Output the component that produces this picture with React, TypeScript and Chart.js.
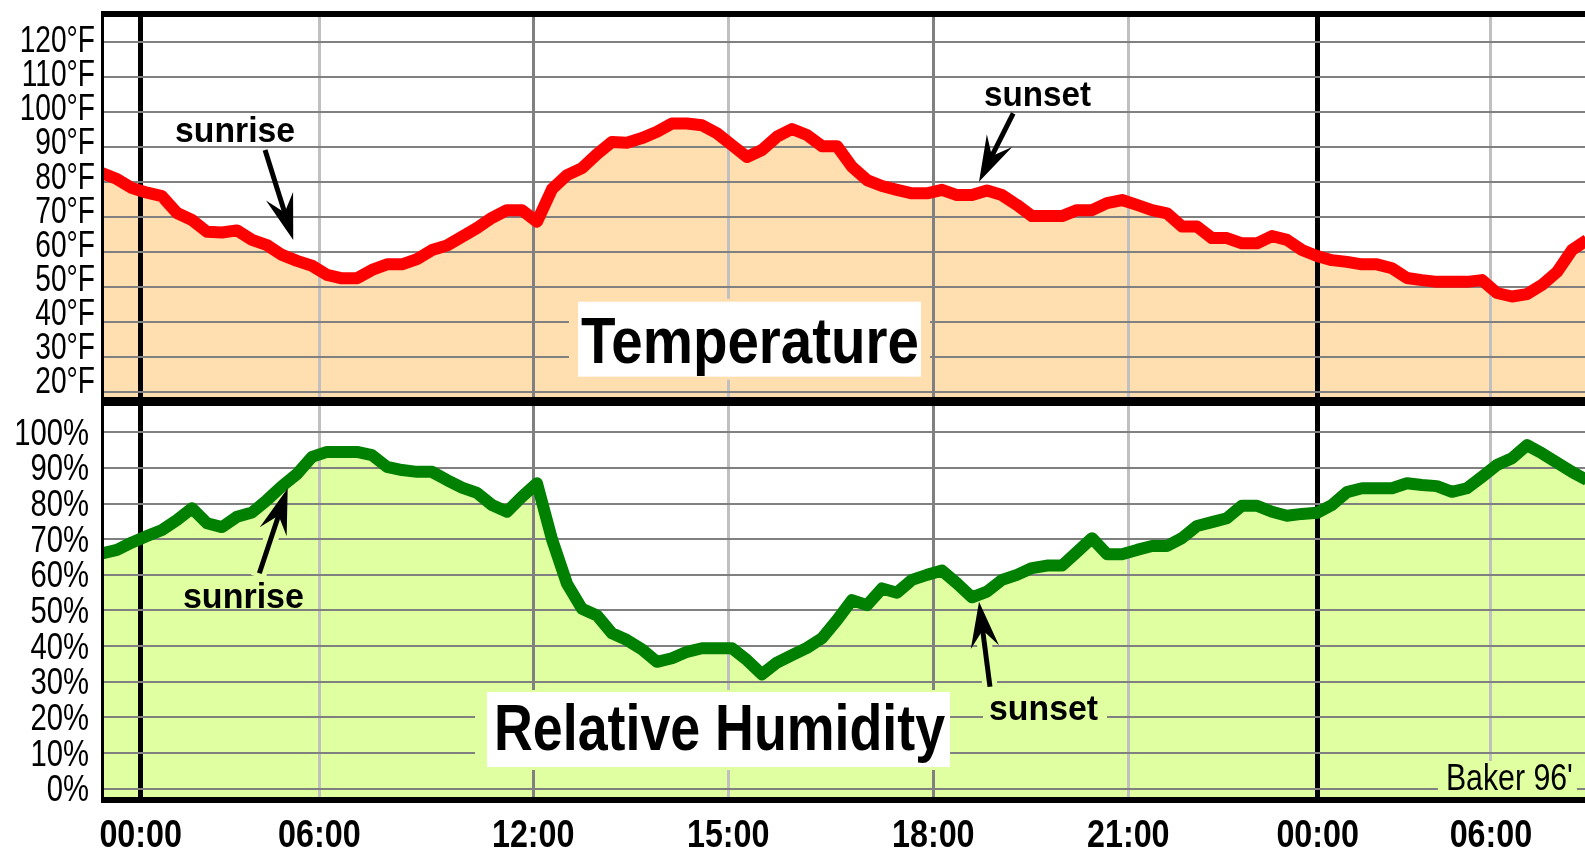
import React, { useEffect, useRef } from 'react';
import { Chart, registerables } from 'chart.js';

Chart.register(...registerables);

// ---------------- data (one sample every ~15 px of the original time axis) ----------------
const temperatureF = [
  82.6, 80.9, 78.3, 77.0, 76.0, 71.2, 69.2, 65.8, 65.6, 66.2,
  63.5, 62.0, 59.2, 57.5, 56.1, 53.5, 52.5, 52.5, 54.9, 56.5,
  56.5, 58.0, 60.6, 61.9, 64.4, 66.9, 69.8, 72.0, 72.0, 68.7,
  78.0, 82.0, 84.0, 88.0, 91.5, 91.3, 92.6, 94.4, 96.8, 96.8,
  96.3, 94.0, 90.6, 87.2, 89.2, 93.0, 95.2, 93.5, 90.3, 90.3,
  84.4, 80.6, 78.9, 77.8, 76.8, 76.8, 77.8, 76.3, 76.3, 77.6,
  76.3, 73.5, 70.3, 70.3, 70.3, 72.0, 72.0, 74.0, 74.9, 73.5,
  72.0, 71.1, 67.3, 67.3, 64.0, 64.0, 62.5, 62.5, 64.6, 63.5,
  60.6, 58.9, 57.7, 57.2, 56.5, 56.5, 55.4, 52.6, 52.0, 51.5,
  51.5, 51.5, 52.0, 48.3, 47.3, 48.0, 50.6, 54.3, 60.6, 63.5,
];

const humidityPct = [
  66.0, 67.0, 69.1, 70.9, 72.6, 75.4, 78.7, 74.5, 73.4, 76.3,
  77.5, 81.0, 84.9, 88.3, 93.1, 94.5, 94.5, 94.5, 93.6, 90.3,
  89.4, 88.9, 88.9, 86.6, 84.5, 83.0, 79.6, 77.7, 81.9, 85.7,
  70.0, 57.5, 50.5, 48.6, 43.6, 41.7, 39.1, 35.6, 36.6, 38.4,
  39.4, 39.4, 39.4, 36.1, 32.1, 35.4, 37.5, 39.5, 42.2, 47.3,
  52.9, 51.5, 56.2, 55.0, 58.6, 60.0, 61.2, 57.6, 53.7, 55.3,
  58.6, 60.0, 61.9, 62.6, 62.6, 66.4, 70.3, 65.8, 65.8, 67.0,
  68.1, 68.1, 70.3, 73.7, 74.8, 75.9, 79.4, 79.4, 77.7, 76.6,
  77.1, 77.4, 79.6, 83.2, 84.3, 84.3, 84.3, 85.7, 85.2, 84.9,
  83.3, 84.3, 87.5, 90.8, 92.7, 96.4, 94.1, 91.5, 88.9, 86.6,
];

const timeTickPositions = [2.58, 14.49, 28.75, 41.75, 55.42, 68.42, 81.05, 92.6];
const timeTickLabels = ['00:00', '06:00', '12:00', '15:00', '18:00', '21:00', '00:00', '06:00'];
const tempTicks = [20, 30, 40, 50, 60, 70, 80, 90, 100, 110, 120];
const humTicks = [0, 10, 20, 30, 40, 50, 60, 70, 80, 90, 100];

// ---------------- styles ----------------
const X_MAX = 98.87;
const xGridColors = ['#000000', '#c0c0c0', '#808080', '#c0c0c0', '#808080', '#c0c0c0', '#000000', '#c0c0c0'];
const xGridWidths = [5, 3, 3, 3, 3, 3, 5, 3];
const TEMP_FILL = '#ffdeb0';
const HUM_FILL = '#e0ffa0';
const TEXT_FAMILY = "'Liberation Sans', Arial, sans-serif";

function drawText(ctx: any, text: string, cx: number, baseline: number, width: number, font: string) {
  ctx.save();
  ctx.font = font;
  const w = ctx.measureText(text).width || 1;
  ctx.translate(cx, baseline);
  ctx.scale(width / w, 1);
  ctx.textAlign = 'center';
  ctx.textBaseline = 'alphabetic';
  ctx.fillStyle = '#000';
  ctx.fillText(text, 0, 0);
  ctx.restore();
}

function drawScaled(ctx: any, text: string, x: number, y: number, sx: number, align: string) {
  ctx.save();
  ctx.translate(x, y);
  ctx.scale(sx, 1);
  ctx.textAlign = align;
  ctx.textBaseline = 'alphabetic';
  ctx.fillText(text, 0, 0);
  ctx.restore();
}

function drawArrow(ctx: any, x0: number, y0: number, x1: number, y1: number, halo?: string) {
  const ang = Math.atan2(y1 - y0, x1 - x0);
  const len = 48;
  const half = 0.3;
  const ux = Math.cos(ang);
  const uy = Math.sin(ang);
  ctx.save();
  ctx.lineCap = 'butt';
  if (halo) {
    ctx.strokeStyle = halo;
    ctx.lineWidth = 15;
    ctx.beginPath();
    ctx.moveTo(x0 - ux * 4, y0 - uy * 4);
    ctx.lineTo(x1 - ux * len * 0.8, y1 - uy * len * 0.8);
    ctx.stroke();
  }
  ctx.strokeStyle = '#000';
  ctx.lineWidth = 5;
  ctx.beginPath();
  ctx.moveTo(x0, y0);
  ctx.lineTo(x1 - ux * len * 0.5, y1 - uy * len * 0.5);
  ctx.stroke();
  ctx.fillStyle = '#000';
  ctx.beginPath();
  ctx.moveTo(x1, y1);
  ctx.lineTo(x1 - len * Math.cos(ang - half), y1 - len * Math.sin(ang - half));
  ctx.lineTo(x1 - ux * len * 0.6, y1 - uy * len * 0.6);
  ctx.lineTo(x1 - len * Math.cos(ang + half), y1 - len * Math.sin(ang + half));
  ctx.closePath();
  ctx.fill();
  ctx.restore();
}

function xScale(height: number) {
  return {
    type: 'linear',
    min: 0,
    max: X_MAX,
    afterBuildTicks: (s: any) => { s.ticks = timeTickPositions.map((v) => ({ value: v })); },
    afterFit: (s: any) => { s.height = height; s.paddingLeft = 0; s.paddingRight = 0; },
    border: { display: false },
    grid: {
      color: (c: any) => xGridColors[c.index] ?? '#c0c0c0',
      lineWidth: (c: any) => xGridWidths[c.index] ?? 3,
      drawTicks: false,
    },
    ticks: { display: false, autoSkip: false },
  };
}

function yScale(min: number, max: number, ticks: number[]) {
  return {
    type: 'linear',
    position: 'left',
    min,
    max,
    afterBuildTicks: (s: any) => { s.ticks = ticks.map((v) => ({ value: v })); },
    afterFit: (s: any) => { s.width = 102; s.paddingTop = 0; s.paddingBottom = 0; },
    border: { display: false },
    grid: { color: '#808080', lineWidth: 2, drawTicks: false },
    ticks: { display: false, autoSkip: false },
  };
}

// Tick labels are drawn from the chart's own scale ticks, horizontally condensed
// like the original bitmap font.
const tickLabels = (isTop: boolean) => ({
  id: 'tickLabels' + (isTop ? 'Top' : 'Bottom'),
  afterDraw(chart: any) {
    const { ctx, chartArea: a } = chart;
    const ys = chart.scales.y;
    const xs = chart.scales.x;
    ctx.save();
    ctx.fillStyle = '#000';
    ctx.font = `37px ${TEXT_FAMILY}`;
    ys.ticks.forEach((t: any) => {
      const py = ys.getPixelForValue(t.value);
      if (isTop) {
        drawScaled(ctx, `${t.value}°F`, a.left - 7, py + 1 + (t.value - 20) * 0.09, 0.76, 'right');
      } else {
        drawScaled(ctx, `${t.value}%`, a.left - 13, py + 12.5, 0.79, 'right');
      }
    });
    if (!isTop) {
      ctx.font = `bold 38px ${TEXT_FAMILY}`;
      xs.ticks.forEach((t: any, i: number) => {
        drawScaled(ctx, timeTickLabels[i], xs.getPixelForValue(t.value), a.bottom + 50, 0.85, 'center');
      });
    }
    ctx.restore();
  },
});

const framePlugin = (isTop: boolean) => ({
  id: 'frame' + (isTop ? 'Top' : 'Bottom'),
  afterDraw(chart: any) {
    const { ctx, chartArea: a, width } = chart;
    ctx.save();
    ctx.fillStyle = '#000';
    if (isTop) {
      ctx.fillRect(a.left - 1, a.top - 6, width, 6);
      ctx.fillRect(a.left - 1, a.top - 6, 3, a.bottom - a.top + 15);
      ctx.fillRect(a.left - 1, a.bottom, width, 9);
    } else {
      ctx.fillRect(a.left - 1, 0, 3, a.bottom + 6);
      ctx.fillRect(a.left - 1, a.bottom, width, 6);
    }
    ctx.restore();
  },
});

const topNotes = {
  id: 'topNotes',
  afterDatasetsDraw(chart: any) {
    const { ctx } = chart;
    const P = (x: number, v: number) => [chart.scales.x.getPixelForValue(x), chart.scales.y.getPixelForValue(v)];
    ctx.save();
    const [tx, ty] = P(43.2, 28.38);
    ctx.fillStyle = TEMP_FILL;
    ctx.fillRect(tx - 181, ty - 64, 361, 81);
    ctx.fillStyle = '#fff';
    ctx.fillRect(tx - 172, ty - 61, 343, 75);
    drawText(ctx, 'Temperature', tx, ty, 338, `bold 65px ${TEXT_FAMILY}`);
    const [sx, sy] = P(8.87, 91.49);
    drawText(ctx, 'sunrise', sx, sy, 120, `bold 35px ${TEXT_FAMILY}`);
    const [ux, uy] = P(62.37, 101.8);
    drawText(ctx, 'sunset', ux, uy, 107, `bold 35px ${TEXT_FAMILY}`);
    const [a0x, a0y] = P(10.87, 89.2);
    const [a1x, a1y] = P(12.75, 63.47);
    drawArrow(ctx, a0x, a0y, a1x, a1y);
    const [b0x, b0y] = P(60.75, 99.7);
    const [b1x, b1y] = P(58.47, 80.14);
    drawArrow(ctx, b0x, b0y, b1x, b1y);
    ctx.restore();
  },
};

const bottomNotes = {
  id: 'bottomNotes',
  afterDatasetsDraw(chart: any) {
    const { ctx } = chart;
    const P = (x: number, v: number) => [chart.scales.x.getPixelForValue(x), chart.scales.y.getPixelForValue(v)];
    ctx.save();
    const [rx, ry] = P(41.17, 10.86);
    ctx.fillStyle = HUM_FILL;
    ctx.fillRect(rx - 244.5, ry - 60, 475, 80);
    ctx.fillStyle = '#fff';
    ctx.fillRect(rx - 232.5, ry - 58, 463, 75);
    drawText(ctx, 'Relative Humidity', rx, ry, 451, `bold 65px ${TEXT_FAMILY}`);

    const [ux, uy] = P(62.77, 19.26);
    ctx.fillStyle = HUM_FILL;
    ctx.fillRect(ux - 60.5, uy - 28, 124, 31);
    drawText(ctx, 'sunset', ux, uy, 109, `bold 35px ${TEXT_FAMILY}`);

    const [kx, ky] = P(93.83, -0.36);
    ctx.fillStyle = HUM_FILL;
    ctx.fillRect(kx - 71.5, ky - 29, 139, 36);
    drawText(ctx, "Baker 96'", kx, ky, 127, `37px ${TEXT_FAMILY}`);

    const [sx, sy] = P(9.43, 50.7);
    drawText(ctx, 'sunrise', sx, sy, 121, `bold 35px ${TEXT_FAMILY}`);

    const [a0x, a0y] = P(10.49, 60.44);
    const [a1x, a1y] = P(12.38, 84.29);
    drawArrow(ctx, a0x, a0y, a1x, a1y, HUM_FILL);
    const [b0x, b0y] = P(59.2, 28.62);
    const [b1x, b1y] = P(58.47, 52.47);
    drawArrow(ctx, b0x, b0y, b1x, b1y, HUM_FILL);
    ctx.restore();
  },
};

function baseOptions(padTop: number) {
  return {
    responsive: false,
    maintainAspectRatio: false,
    devicePixelRatio: 1,
    animation: false,
    events: [],
    layout: { padding: { top: padTop, left: 0, right: 0, bottom: 0 }, autoPadding: false },
    plugins: {
      legend: { display: false },
      tooltip: { enabled: false },
      filler: { drawTime: 'beforeDraw' },
    },
  };
}

export default function App() {
  const topRef = useRef<HTMLCanvasElement | null>(null);
  const botRef = useRef<HTMLCanvasElement | null>(null);

  useEffect(() => {
    const top = new Chart(topRef.current as HTMLCanvasElement, {
      type: 'line',
      data: {
        datasets: [{
          label: 'Temperature',
          data: temperatureF.map((v, i) => ({ x: i, y: v })),
          borderColor: '#ff0000',
          backgroundColor: TEMP_FILL,
          borderWidth: 12,
          borderJoinStyle: 'round',
          pointRadius: 0,
          tension: 0,
          fill: 'start',
          clip: 0,
        }],
      },
      options: {
        ...baseOptions(17),
        scales: {
          x: xScale(9),
          y: yScale(18.57, 127.23, tempTicks),
        },
      } as any,
      plugins: [topNotes, tickLabels(true), framePlugin(true)],
    } as any);

    const bottom = new Chart(botRef.current as HTMLCanvasElement, {
      type: 'line',
      data: {
        datasets: [{
          label: 'Relative Humidity',
          data: humidityPct.map((v, i) => ({ x: i, y: v })),
          borderColor: '#008000',
          backgroundColor: HUM_FILL,
          borderWidth: 12,
          borderJoinStyle: 'round',
          pointRadius: 0,
          tension: 0,
          fill: 'start',
          clip: 0,
        }],
      },
      options: {
        ...baseOptions(0),
        scales: {
          x: xScale(54),
          y: yScale(-2.33, 107.38, humTicks),
        },
      } as any,
      plugins: [bottomNotes, tickLabels(false), framePlugin(false)],
    } as any);

    return () => { top.destroy(); bottom.destroy(); };
  }, []);

  return (
    <div style={{ position: 'fixed', left: 0, top: 0, width: 1585, height: 851, background: '#fff', overflow: 'hidden' }}>
      <div style={{ position: 'absolute', left: 0, top: 0, width: 1585, height: 406 }}>
        <canvas ref={topRef} width={1585} height={406} style={{ display: 'block' }} />
      </div>
      <div style={{ position: 'absolute', left: 0, top: 406, width: 1585, height: 445 }}>
        <canvas ref={botRef} width={1585} height={445} style={{ display: 'block' }} />
      </div>
    </div>
  );
}
